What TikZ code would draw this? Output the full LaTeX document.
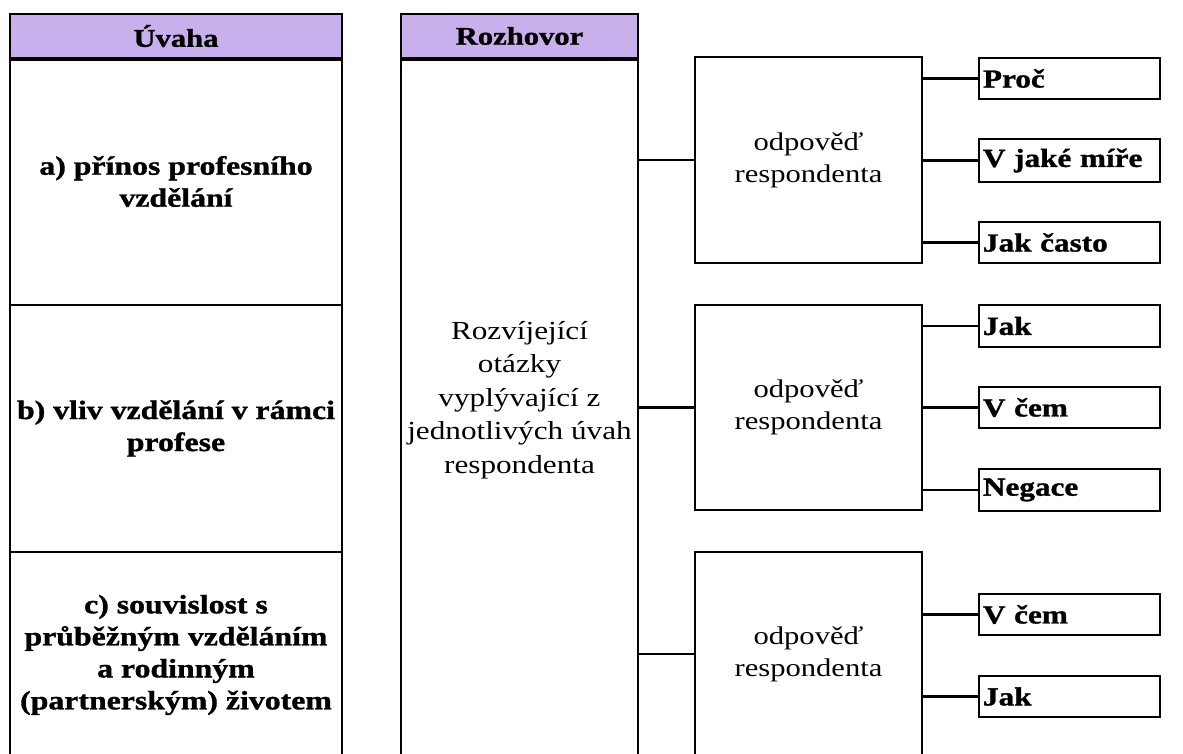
\documentclass[tikz,border=0pt]{standalone}
\usepackage{fontspec}
\setmainfont{Liberation Serif}[FakeStretch=1.2, BoldFeatures={FakeBold=1.2}]
\definecolor{hdrfill}{RGB}{200,176,236}
\tikzset{
  boxline/.style={draw=black, line width=2.6pt},
  hdrbox/.style={boxline, fill=hdrfill, inner sep=0pt, font=\bfseries\fontsize{25.5}{30}\selectfont},
  cellbox/.style={boxline, fill=white, inner sep=0pt, align=center, font=\bfseries\fontsize{26.5}{32}\selectfont},
  colbody/.style={boxline, fill=white, inner sep=0pt},
  midtext/.style={align=center, inner sep=0pt, font=\fontsize{26}{33.5}\selectfont},
  respbox/.style={boxline, fill=white, minimum width=227pt, inner sep=0pt, align=center, font=\fontsize{25.5}{32}\selectfont},
  qbox/.style={draw=black, line width=2.3pt, fill=white, text width=173pt, inner xsep=4pt, inner ysep=0pt, align=left, font=\bfseries\fontsize{26}{30}\selectfont},
  conn/.style={draw=black, line width=2.6pt}
}
\begin{document}
\begin{tikzpicture}[x=1pt,y=-1pt]
\useasboundingbox (0,0) rectangle (1183,754);
\fill[white] (0,0) rectangle (1183,754);
\clip (0,0) rectangle (1183,754);

% left column: Úvaha
\node[hdrbox, minimum width=332pt, minimum height=44pt] (uh) at (176,36) {Úvaha};
\node[cellbox, minimum width=332pt, minimum height=247pt] (ca) at (176,181.5) {a) přínos profesního\\vzdělání};
\node[cellbox, minimum width=332pt, minimum height=247pt] (cb) at (176,428.5) {b) vliv vzdělání v rámci\\profese};
\node[cellbox, minimum width=332pt, minimum height=206pt] (cc) at (176,655) {c) souvislost s\\průběžným vzděláním\\a rodinným\\(partnerským) životem};
\draw[line width=4pt] (uh.south west) -- (uh.south east);

% middle column: Rozhovor
\node[colbody, minimum width=237pt, minimum height=742pt] (rb) at (519.5,429) {};
\node[hdrbox, minimum width=237pt, minimum height=44pt] (rh) at (519.5,36) {Rozhovor};
\draw[line width=4pt] (rh.south west) -- (rh.south east);
\node[midtext] (rt) at (519.5,400) {Rozvíjející\\otázky\\vyplývající z\\jednotlivých úvah\\respondenta};

% response boxes
\node[respbox, minimum height=206pt] (r1) at (808.5,160) {odpověď\\respondenta};
\node[respbox, minimum height=205pt] (r2) at (808.5,407.5) {odpověď\\respondenta};
\node[respbox, minimum height=204pt] (r3) at (808.5,654) {odpověď\\respondenta};

% question boxes
\node[qbox, minimum height=41pt] (p1) at (1069.5,78.5) {Proč};
\node[qbox, minimum height=43pt] (p2) at (1069.5,160.5) {V jaké míře};
\node[qbox, minimum height=41pt] (p3) at (1069.5,242.5) {Jak často};
\node[qbox, minimum height=42pt] (q1) at (1069.5,326) {Jak};
\node[qbox, minimum height=41pt] (q2) at (1069.5,407.5) {V čem};
\node[qbox, minimum height=42pt] (q3) at (1069.5,490) {Negace};
\node[qbox, minimum height=41pt] (s1) at (1069.5,614.5) {V čem};
\node[qbox, minimum height=41pt] (s2) at (1069.5,696.5) {Jak};

% connectors
\draw[conn] (rb.east |- r1.west) -- (r1.west);
\draw[conn] (rb.east |- r2.west) -- (r2.west);
\draw[conn] (rb.east |- r3.west) -- (r3.west);
\draw[conn] (r1.east |- p1.west) -- (p1.west);
\draw[conn] (r1.east |- p2.west) -- (p2.west);
\draw[conn] (r1.east |- p3.west) -- (p3.west);
\draw[conn] (r2.east |- q1.west) -- (q1.west);
\draw[conn] (r2.east |- q2.west) -- (q2.west);
\draw[conn] (r2.east |- q3.west) -- (q3.west);
\draw[conn] (r3.east |- s1.west) -- (s1.west);
\draw[conn] (r3.east |- s2.west) -- (s2.west);
\end{tikzpicture}
\end{document}
